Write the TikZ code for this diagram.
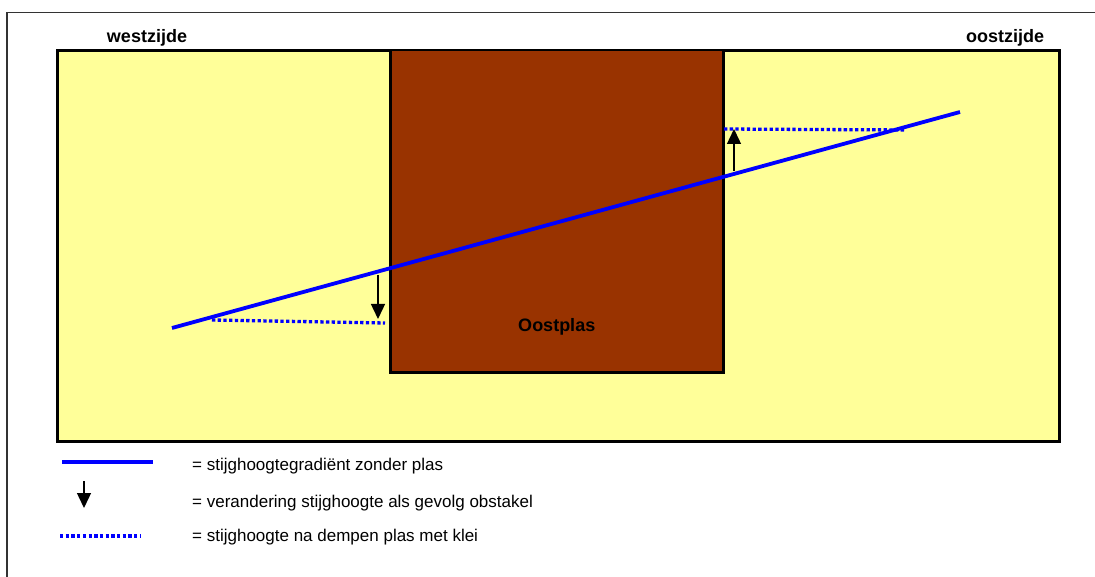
\documentclass[tikz,border=0pt]{standalone}
\usepackage{fontspec}
\setmainfont{Liberation Sans}
\usepackage{xcolor}
\usepackage{tikz}
\usetikzlibrary{arrows.meta,positioning,calc}
\definecolor{zand}{HTML}{FFFF99}
\definecolor{klei}{HTML}{993300}
\definecolor{kader}{HTML}{333333}

\begin{document}
\begin{tikzpicture}[x=1pt, y=-1pt,
    grond/.style={draw=black, fill=zand, line width=2.8pt, inner sep=0pt, anchor=north west},
    plas/.style={draw=black, fill=klei, line width=2.5pt, inner sep=0pt, anchor=north west},
    zijde/.style={font=\fontsize{18}{20}\selectfont\bfseries, inner sep=1pt},
    gradient/.style={draw=blue, line width=3.8pt},
    gedempt/.style={draw=blue, line width=3.3pt, dash pattern=on 3.3pt off 2.4pt},
    verschil/.style={-{Triangle[width=14pt,length=15pt]}, line width=1.4pt},
    legtekst/.style={font=\fontsize{17}{20}\selectfont, anchor=west, inner sep=0pt}
]
\useasboundingbox (0,0) rectangle (1095,577);
% kader om de figuur
\draw[kader, line width=1.6pt] (7,600) |- (1110,12.5);

\node[grond, minimum width=1002pt, minimum height=391pt] (grond) at (56,49) {};
\node[plas, minimum width=333pt, minimum height=322pt] (plas) at (389,49) {};

\node[zijde] (west) at (147,38) {westzijde};
\node[zijde] (oost) at (1005,38) {oostzijde};
\node[zijde, above=37pt of plas.south] (naam) {Oostplas};

% stijghoogte zonder en met plas
\coordinate (g1) at (172,328);
\coordinate (g2) at (960,112);
\draw[gradient] (g1) -- (g2);
\draw[gedempt] (212,320) -- (385,323);
\draw[gedempt] (724,129) -- (905,130);
\coordinate (wb) at (378,275);
\coordinate (wo) at (378,319);
\coordinate (ob) at (734,171);
\coordinate (oo) at (734,129);
\draw[verschil] (wb) -- (wo);
\draw[verschil] (ob) -- (oo);

% legenda
\node[legtekst] (leg1) at (192,466) {= stijghoogtegradiënt zonder plas};
\node[legtekst] (leg2) at (192,503) {= verandering stijghoogte als gevolg obstakel};
\node[legtekst] (leg3) at (192,537) {= stijghoogte na dempen plas met klei};
\draw[gradient, line width=4.5pt] (62,462) -- (153,462);
\draw[verschil] (84,481) -- (84,508);
\draw[gedempt] (60,536) -- (141,536);
\end{tikzpicture}
\end{document}
